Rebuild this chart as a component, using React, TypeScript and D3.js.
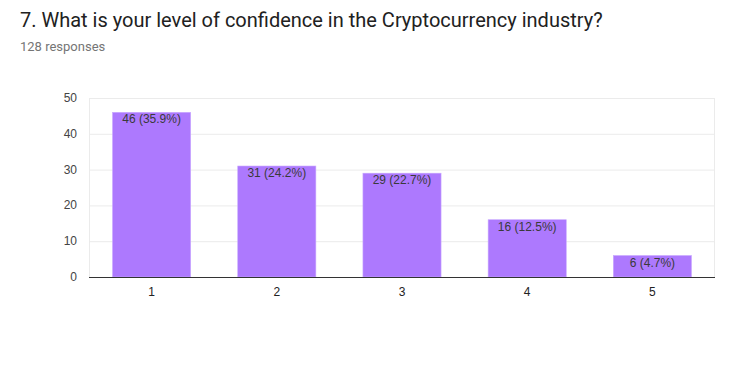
import React from "react";
import * as d3 from "d3";

const categories = ["1", "2", "3", "4", "5"];
const counts = [46, 31, 29, 16, 6];
const labels = ["46 (35.9%)", "31 (24.2%)", "29 (22.7%)", "16 (12.5%)", "6 (4.7%)"];
const yTicks = [0, 10, 20, 30, 40, 50];

export default function App() {
  const W = 737, H = 377;
  const left = 89, right = 715, top = 98, bottom = 277;
  const x = d3.scaleBand<string>().domain(categories).range([left, right]).paddingInner(0.376).paddingOuter(0.188);
  const y = d3.scaleLinear().domain([0, 50]).range([bottom, top]);
  const font = "Roboto, Arial, sans-serif";
  const afont = "Arial, 'Liberation Sans', sans-serif";
  return (
    <svg width={W} height={H} style={{ position: "absolute", left: 0, top: 0, background: "#fff" }}>
      <text x={20} y={27} fontFamily={font} fontSize={20} fill="#212121">7. What is your level of confidence in the Cryptocurrency industry?</text>
      <text x={20} y={51} fontFamily={font} fontSize={13} fill="#757575">128 responses</text>
      <rect x={left + 0.5} y={top + 0.5} width={right - left - 1} height={bottom - top} fill="none" stroke="#ebebeb" strokeWidth={1} />
      {yTicks.map((t) => (
        <g key={t}>
          {t > 0 && <line x1={left} x2={right} y1={y(t) + 0.5} y2={y(t) + 0.5} stroke="#ebebeb" />}
          <text x={77} y={y(t) + 4} textAnchor="end" fontFamily={afont} fontSize={12} fill="#444">{t}</text>
        </g>
      ))}
      {categories.map((c, i) => (
        <g key={c}>
          <rect x={x(c)!} y={y(counts[i])} width={x.bandwidth()} height={bottom - y(counts[i])} fill="#ad79fe" stroke="#c9a8ff" strokeWidth={0.6} />
          <text x={x(c)! + x.bandwidth() / 2} y={y(counts[i]) + 11} textAnchor="middle" fontFamily={afont} fontSize={12} fill="#3a3a3a">{labels[i]}</text>
          <text x={x(c)! + x.bandwidth() / 2} y={296} textAnchor="middle" fontFamily={afont} fontSize={12} fill="#222">{c}</text>
        </g>
      ))}
      <line x1={left} x2={right} y1={bottom + 0.5} y2={bottom + 0.5} stroke="#333" strokeWidth={1} />
    </svg>
  );
}
